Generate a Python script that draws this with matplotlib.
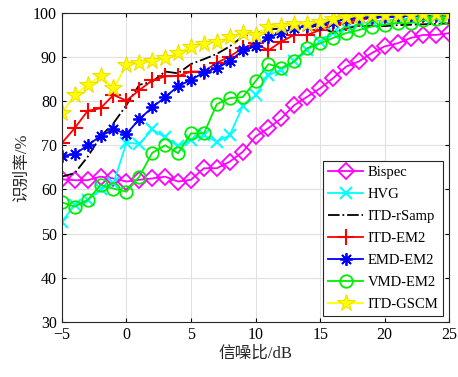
import numpy as np
import matplotlib.pyplot as plt

plt.rcParams['font.family'] = ['Liberation Serif', 'Noto Sans CJK SC']
plt.rcParams['axes.unicode_minus'] = True

snr = np.arange(-5, 26)

bispec = [62.3, 62.1, 62.1, 62.9, 62.5, 61.8, 62.2, 62.5, 62.9, 61.8, 62.2,
          64.8, 64.8, 66.3, 68.5, 72.0, 73.9, 76.1, 79.1, 81.0, 82.9,
          85.2, 87.8, 89.0, 90.9, 92.4, 93.1, 94.3, 95.0, 95.0, 95.4]
hvg = [52.7, 56.5, 57.6, 60.0, 61.4, 70.6, 70.3, 73.6, 71.8, 69.8, 71.2,
       72.3, 70.8, 72.3, 78.8, 81.3, 85.9, 87.1, 89.0, 91.6, 93.5,
       95.4, 96.5, 97.5, 98.0, 98.3, 98.5, 98.7, 99.0, 99.0, 99.2]
itd_rsamp = [62.9, 63.7, 67.4, 72.0, 75.0, 79.1, 83.7, 84.4, 86.7, 86.3, 88.4,
             89.5, 90.7, 92.4, 94.6, 95.4, 96.2, 96.5, 97.0, 97.2, 96.8,
             95.5, 96.5, 97.0, 97.0, 97.0, 97.2, 97.3, 97.4, 97.5, 97.6]
itd_em2 = [70.5, 73.9, 77.8, 78.4, 81.4, 80.1, 82.5, 84.7, 85.6, 85.7, 86.7,
           86.7, 88.7, 90.1, 92.0, 93.1, 91.5, 93.5, 95.0, 95.0, 96.1,
           97.3, 97.7, 98.5, 99.0, 99.0, 99.3, 99.4, 99.5, 99.5, 99.6]
emd_em2 = [67.6, 68.0, 70.0, 72.1, 73.6, 72.6, 75.9, 78.6, 80.9, 83.4, 84.8,
           86.5, 87.5, 89.0, 91.5, 92.4, 94.5, 95.5, 96.5, 97.0, 97.5,
           98.0, 98.5, 99.0, 99.0, 99.2, 99.3, 99.4, 99.5, 99.5, 99.6]
vmd_em2 = [57.1, 56.1, 57.6, 61.0, 60.2, 59.5, 62.9, 68.3, 70.0, 68.2, 72.7,
           72.7, 79.3, 80.7, 80.9, 84.5, 88.4, 87.5, 89.0, 92.0, 93.1,
           94.3, 95.4, 96.1, 96.9, 97.3, 97.7, 97.7, 98.3, 98.5, 98.9]
itd_gscm = [77.3, 81.4, 83.7, 85.7, 82.9, 88.2, 88.6, 89.0, 89.8, 91.0, 92.3,
            93.0, 93.5, 94.5, 95.5, 95.0, 96.8, 97.0, 97.5, 97.5, 98.0,
            98.5, 99.0, 99.3, 99.5, 99.5, 99.6, 99.6, 99.7, 99.7, 99.8]

fig = plt.figure(figsize=(4.58, 3.77), dpi=100)
ax = fig.add_axes([0.135, 0.146, 0.846, 0.82])

lw = 1.3
ax.plot(snr, bispec, '-D', color='#ff00ff', lw=lw, ms=8, mfc='none', mew=1.3, label='Bispec')
ax.plot(snr, hvg, '-x', color='#00ffff', lw=lw, ms=8, mew=1.5, label='HVG')
ax.plot(snr, itd_rsamp, '-.', color='black', lw=lw, label='ITD-rSamp')
ax.plot(snr, itd_em2, '-+', color='#ff0000', lw=lw, ms=11, mew=1.5, label='ITD-EM2')
ax.plot(snr, emd_em2, '-', marker=(8, 2, 0), color='#0000ff', lw=lw, ms=9, mew=1.3, label='EMD-EM2')
ax.plot(snr, vmd_em2, '-o', color='#00ee00', lw=lw, ms=9, mfc='none', mew=1.3, label='VMD-EM2')
ax.plot(snr, itd_gscm, '-*', color='#ffff00', lw=lw, ms=13, mec='#f0e000', mew=0.8, label='ITD-GSCM')

ax.set_xlim(-5, 25)
ax.set_ylim(30, 100)
ax.set_xticks(np.arange(-5, 26, 5))
ax.set_yticks(np.arange(30, 101, 10))
ax.grid(True, color='#e0e0e0', lw=0.8)
ax.set_axisbelow(True)
ax.tick_params(direction='in', labelsize=11.5, top=True, right=True, length=3)
for s in ax.spines.values():
    s.set_color('#262626')
    s.set_linewidth(0.8)

ax.set_xlabel('信噪比/dB', fontsize=12, color='#262626', labelpad=2)
ax.set_ylabel('识别率/%', fontsize=12, color='#262626', labelpad=2)

leg = ax.legend(loc='lower right', fontsize=10.5, fancybox=False, framealpha=1,
                edgecolor='#262626', handlelength=2.4, borderpad=0.35,
                labelspacing=0.6, handletextpad=0.3, borderaxespad=0.4)
leg.get_frame().set_linewidth(0.8)

plt.savefig('out.png', dpi=100)
